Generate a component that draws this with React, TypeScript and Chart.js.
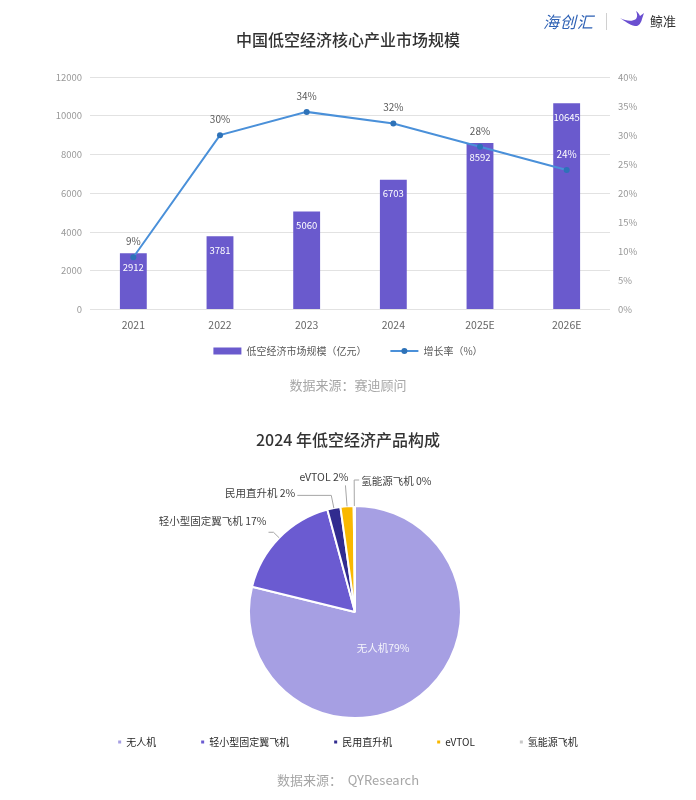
import React, { useEffect, useRef } from 'react';
import { Chart, registerables } from 'chart.js';

Chart.register(...registerables);

const FONT = '"Noto Sans CJK SC", "Noto Sans", sans-serif';
Chart.defaults.font.family = FONT;

// ---- Chart 1 data ----
const years = ['2021', '2022', '2023', '2024', '2025E', '2026E'];
const marketSize = [2912, 3781, 5060, 6703, 8592, 10645];
const growthRate = [9, 30, 34, 32, 28, 24];
const leftTicksMax = 12000;
const leftTickStep = 2000;
const rightTicksMax = 40;
const rightTickStep = 5;

// ---- Chart 2 data ----
const productLabels = ['无人机', '轻小型固定翼飞机', '民用直升机', 'eVTOL', '氢能源飞机'];
const productShare = [79, 17, 2, 2, 0.2];

// ---- styles ----
const productColors = ['#a69fe3', '#6b5bd1', '#312c8f', '#f9b800', '#c8c8c8'];
const pieLabelStyle = [
  { inside: true, dist: 0.43 },
  { ext: 8, run: -5, dy: -11, dx: -2 },
  { ext: 13, run: -34, dy: -2, dx: -2 },
  { ext: 21, run: 0, dy: -8, dx: 3 },
  { ext: 26, run: 5, dy: 1, dx: 2 },
];

const comboLabelsPlugin = {
  id: 'comboLabels',
  afterDatasetsDraw(chart: any) {
    const ctx = chart.ctx;
    ctx.save();
    ctx.textAlign = 'center';
    ctx.textBaseline = 'middle';
    ctx.font = `9.5px ${FONT}`;
    const barMeta = chart.getDatasetMeta(0);
    barMeta.data.forEach((el: any, i: number) => {
      ctx.fillStyle = '#ffffff';
      ctx.fillText(String(marketSize[i]), el.x, el.y + 14);
    });
    ctx.font = `10px ${FONT}`;
    const lineMeta = chart.getDatasetMeta(1);
    lineMeta.data.forEach((el: any, i: number) => {
      const ly = el.y - 16;
      const bar = barMeta.data[i];
      ctx.fillStyle = ly > bar.y + 4 ? '#ffffff' : '#595959';
      ctx.fillText(growthRate[i] + '%', el.x, ly);
    });
    ctx.restore();
  },
  afterDraw(chart: any) {
    const lg = chart.legend;
    if (!lg || !lg.legendHitBoxes || !lg.legendItems) return;
    const idx = lg.legendItems.findIndex((it: any) => it.datasetIndex === 1);
    if (idx < 0) return;
    const hb = lg.legendHitBoxes[idx];
    const ctx = chart.ctx;
    const cy = hb.top + hb.height / 2;
    ctx.save();
    ctx.strokeStyle = '#4a90d9';
    ctx.lineWidth = 2;
    ctx.beginPath();
    ctx.moveTo(hb.left, cy);
    ctx.lineTo(hb.left + 28, cy);
    ctx.stroke();
    ctx.fillStyle = '#2e72b8';
    ctx.beginPath();
    ctx.arc(hb.left + 14, cy, 3, 0, Math.PI * 2);
    ctx.fill();
    ctx.restore();
  },
};

const pieLabelsPlugin = {
  id: 'pieLabels',
  afterLayout(chart: any) {
    const ca = chart.chartArea;
    ca.left += 14;
    ca.width = ca.right - ca.left;
  },
  afterDatasetsDraw(chart: any) {
    const ctx = chart.ctx;
    const meta = chart.getDatasetMeta(0);
    const total = productShare.reduce((a, b) => a + b, 0);
    ctx.save();
    ctx.textBaseline = 'middle';
    ctx.font = `10.5px ${FONT}`;
    meta.data.forEach((arc: any, i: number) => {
      const p = arc.getProps(['x', 'y', 'startAngle', 'endAngle', 'outerRadius'], true);
      const mid = (p.startAngle + p.endAngle) / 2;
      const pct = Math.round((productShare[i] / total) * 100) + '%';
      const st: any = pieLabelStyle[i];
      const cos = Math.cos(mid);
      const sin = Math.sin(mid);
      if (st.inside) {
        ctx.fillStyle = '#f4f4fb';
        ctx.textAlign = 'center';
        ctx.fillText(productLabels[i] + pct, p.x + cos * p.outerRadius * st.dist, p.y + sin * p.outerRadius * st.dist);
        return;
      }
      const ex = p.x + cos * p.outerRadius;
      const ey = p.y + sin * p.outerRadius;
      const px = p.x + cos * (p.outerRadius + st.ext);
      const py = p.y + sin * (p.outerRadius + st.ext);
      const qx = px + st.run;
      ctx.strokeStyle = '#a6a6a6';
      ctx.lineWidth = 1;
      ctx.beginPath();
      ctx.moveTo(ex, ey);
      ctx.lineTo(px, py);
      ctx.lineTo(qx, py);
      ctx.stroke();
      ctx.fillStyle = '#404040';
      ctx.textAlign = st.run > 0 ? 'left' : 'right';
      ctx.fillText(productLabels[i] + ' ' + pct, qx + st.dx, py + st.dy);
    });
    ctx.restore();
  },
};

export default function App() {
  const ref1 = useRef<HTMLCanvasElement>(null);
  const ref2 = useRef<HTMLCanvasElement>(null);

  useEffect(() => {
    const c1 = new Chart(ref1.current as HTMLCanvasElement, {
      type: 'bar',
      data: {
        labels: years,
        datasets: [
          {
            type: 'bar',
            label: '低空经济市场规模（亿元）',
            data: marketSize,
            yAxisID: 'y',
            backgroundColor: '#6a5acd',
            barPercentage: 0.31,
            categoryPercentage: 1,
            order: 2,
          } as any,
          {
            type: 'line',
            label: '增长率（%）',
            data: growthRate,
            yAxisID: 'y1',
            borderColor: '#4a90d9',
            backgroundColor: '#2e72b8',
            borderWidth: 2,
            pointRadius: 3,
            pointBackgroundColor: '#2e72b8',
            pointBorderColor: '#2e72b8',
            pointBorderWidth: 0,
            tension: 0,
            order: 1,
          } as any,
        ],
      },
      options: {
        responsive: false,
        animation: false,
        events: [],
        layout: { padding: { top: 0, bottom: 0, left: 0, right: 0 } },
        scales: {
          x: {
            grid: { display: false, drawTicks: false },
            border: { display: false },
            ticks: { color: '#666666', font: { size: 10.5 }, padding: 9 },
            afterFit: (s: any) => { s.height = 22; },
          },
          y: {
            position: 'left',
            min: 0,
            max: leftTicksMax,
            grid: { color: '#e2e2e2', drawTicks: false, lineWidth: 1 },
            border: { display: false },
            ticks: { stepSize: leftTickStep, color: '#999999', font: { size: 9.5 }, padding: 8, callback: (v: any) => String(v) },
            afterFit: (s: any) => { s.width = 90; },
          },
          y1: {
            position: 'right',
            min: 0,
            max: rightTicksMax,
            grid: { display: false, drawTicks: false },
            border: { display: false },
            ticks: { stepSize: rightTickStep, color: '#999999', font: { size: 9.5 }, padding: 8, callback: (v: any) => v + '%' },
            afterFit: (s: any) => { s.width = 86; },
          },
        } as any,
        plugins: {
          title: {
            display: true,
            text: '中国低空经济核心产业市场规模',
            color: '#333333',
            font: { size: 16, weight: '500' },
            padding: { top: 30, bottom: 27.8 },
          },
          subtitle: {
            display: true,
            position: 'bottom',
            text: '数据来源：赛迪顾问',
            color: '#a6a6a6',
            font: { size: 13 },
            padding: { top: 11.2, bottom: 7.2 },
          },
          legend: {
            display: true,
            position: 'bottom',
            title: { display: true, text: ' ', font: { size: 1 }, padding: { top: -10.8, bottom: 0 } },
            labels: {
              color: '#595959',
              font: { size: 10 },
              boxWidth: 28,
              boxHeight: 7,
              padding: 24,
              sort: (a: any, b: any) => a.datasetIndex - b.datasetIndex,
              generateLabels: (chart: any) => {
                const items = (Chart.defaults.plugins.legend.labels as any).generateLabels(chart);
                return items.map((it: any) =>
                  it.datasetIndex === 1
                    ? { ...it, fillStyle: 'rgba(0,0,0,0)', strokeStyle: 'rgba(0,0,0,0)', lineWidth: 0 }
                    : { ...it, lineWidth: 0 }
                );
              },
            },
          },
          tooltip: { enabled: false },
        },
      } as any,
      plugins: [comboLabelsPlugin],
    });

    const c2 = new Chart(ref2.current as HTMLCanvasElement, {
      type: 'pie',
      data: {
        labels: productLabels,
        datasets: [
          {
            data: productShare,
            backgroundColor: productColors,
            borderColor: '#ffffff',
            borderWidth: 2,
            radius: 106,
            clip: false,
          } as any,
        ],
      },
      options: {
        responsive: false,
        animation: false,
        events: [],
        layout: { padding: 0 },
        plugins: {
          title: {
            display: true,
            text: '2024 年低空经济产品构成',
            color: '#333333',
            font: { size: 16, weight: '500' },
            padding: { top: 30, bottom: 82.8 },
          },
          subtitle: {
            display: true,
            position: 'bottom',
            text: '数据来源：  QYResearch',
            color: '#a6a6a6',
            font: { size: 13 },
            padding: { top: 15.2, bottom: 12.2 },
          },
          legend: {
            display: true,
            position: 'bottom',
            labels: {
              color: '#262626',
              font: { size: 10 },
              boxWidth: 3,
              boxHeight: 3,
              padding: 45,
              generateLabels: (chart: any) => {
                const items = (Chart.overrides as any).pie.plugins.legend.labels.generateLabels(chart);
                return items.map((it: any) => ({ ...it, lineWidth: 0, strokeStyle: 'rgba(0,0,0,0)' }));
              },
            },
          },
          tooltip: { enabled: false },
        },
      } as any,
      plugins: [pieLabelsPlugin],
    });

    return () => {
      c1.destroy();
      c2.destroy();
    };
  }, []);

  return (
    <div style={{ position: 'absolute', left: 0, top: 0, width: 696, height: 800, background: '#ffffff', overflow: 'hidden' }}>
      <canvas ref={ref1} width={696} height={400} style={{ position: 'absolute', left: 0, top: 0, width: 696, height: 400 }} />
      <canvas ref={ref2} width={696} height={400} style={{ position: 'absolute', left: 0, top: 400, width: 696, height: 400 }} />
      <div style={{ position: 'absolute', left: 543, top: 10, fontFamily: FONT, fontSize: 16, fontStyle: 'italic', color: '#2f62b5', letterSpacing: 1, lineHeight: '22px' }}>
        海创汇
      </div>
      <div style={{ position: 'absolute', left: 606, top: 13, width: 1, height: 17, background: '#d0d0d0' }} />
      <svg style={{ position: 'absolute', left: 619, top: 10 }} width={26} height={22} viewBox="0 0 26 22">
        <path d="M1 8 C6 11 10 15 16 16 C20 16.5 22 13 23 9 L25 3 L21 6 C20 4 19 2 17 1 C18.5 4 18.5 7 17 9 C13 12 7 11 1 8 Z" fill="#6a4fd0" />
      </svg>
      <div style={{ position: 'absolute', left: 650, top: 11, fontFamily: FONT, fontSize: 13, color: '#333333', lineHeight: '20px' }}>
        鲸准
      </div>
    </div>
  );
}
